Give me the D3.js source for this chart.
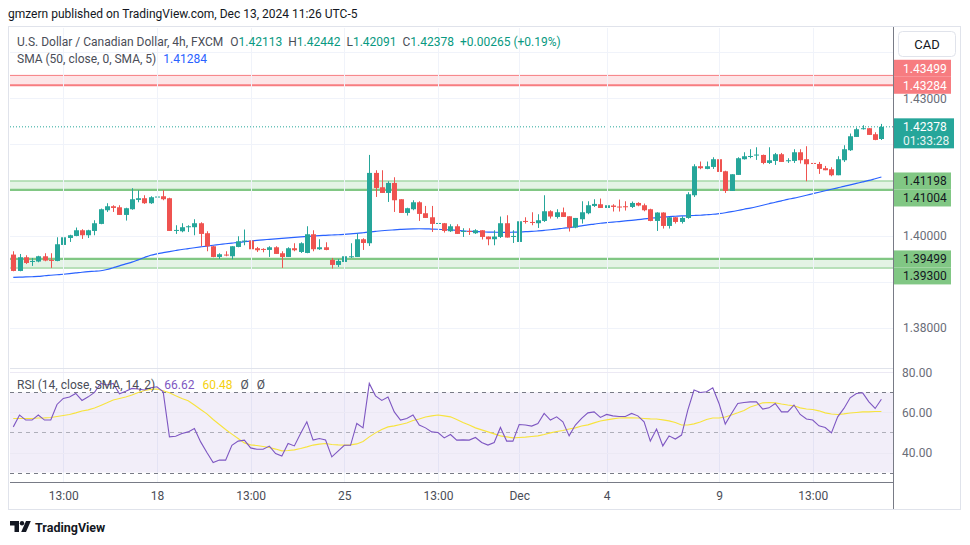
<!DOCTYPE html>
<html><head><meta charset="utf-8">
<script src="https://cdn.jsdelivr.net/npm/d3@7/dist/d3.min.js"></script>
<style>
html,body{margin:0;padding:0;background:#ffffff;}
svg{display:block;font-family:Roboto,"Noto Sans",sans-serif;}
</style>
</head><body>
<svg id="chart" width="970" height="545"></svg>
<script>
// ---------------- DATA ----------------
const open = [1.39594,1.39237,1.39535,1.39433,1.39442,1.39557,1.39477,1.39455,1.39804,1.39956,
1.40000,1.40124,1.40015,1.40109,1.40262,1.40560,1.40647,1.40625,1.40458,1.40582,
1.40785,1.40822,1.40713,1.40837,1.40865,1.40822,1.40109,1.40102,1.40190,1.40190,
1.40277,1.40059,1.39775,1.39542,1.39594,1.39557,1.39760,1.39878,1.39899,1.39732,
1.39717,1.39695,1.39753,1.39623,1.39542,1.39732,1.39651,1.39629,1.40037,1.39710,
1.39753,1.39477,1.39368,1.39433,1.39535,1.39542,1.39928,1.39841,1.41374,1.41061,
1.40937,1.41155,1.40800,1.40501,1.40582,1.40734,1.40495,1.40407,1.40270,1.40277,
1.40102,1.40211,1.40087,1.40109,1.40059,1.40124,1.39987,1.39928,1.39978,1.40277,
1.39978,1.39869,1.40327,1.40305,1.40277,1.40327,1.40538,1.40414,1.40516,1.40429,
1.40183,1.40364,1.40495,1.40654,1.40691,1.40610,1.40663,1.40641,1.40647,1.40632,
1.40719,1.40669,1.40582,1.40327,1.40510,1.40218,1.40407,1.40305,1.40392,1.40887,
1.41519,1.41461,1.41504,1.41672,1.41410,1.40981,1.41330,1.41672,1.41722,1.41752,
1.41765,1.41591,1.41635,1.41781,1.41628,1.41635,1.41824,1.41672,1.41591,1.41569,
1.41476,1.41454,1.41323,1.41650,1.41868,1.42158,1.42326,1.42348,1.42217,1.42113];

const high = [1.39666,1.39607,1.39579,1.39520,1.39568,1.39623,1.39623,1.39971,1.40000,1.40026,
1.40183,1.40146,1.40135,1.40342,1.40597,1.40713,1.40669,1.40669,1.40615,1.41040,
1.40996,1.40887,1.40865,1.41018,1.40996,1.40833,1.40233,1.40277,1.40233,1.40364,
1.40298,1.40102,1.39786,1.39623,1.39666,1.39775,1.39993,1.40140,1.39949,1.39760,
1.39732,1.39775,1.39775,1.39666,1.39753,1.39841,1.39862,1.40211,1.40124,1.39928,
1.39862,1.39520,1.39498,1.39753,1.39841,1.40052,1.39949,1.41766,1.41432,1.41432,
1.41192,1.41279,1.40800,1.40615,1.40778,1.40756,1.40654,1.40654,1.40342,1.40283,
1.40255,1.40255,1.40168,1.40168,1.40146,1.40124,1.39987,1.40124,1.40423,1.40451,
1.40124,1.40342,1.40407,1.40516,1.40473,1.40887,1.40560,1.40582,1.40619,1.40429,
1.40392,1.40756,1.40756,1.40800,1.40815,1.40800,1.40691,1.40793,1.40756,1.40750,
1.40734,1.40706,1.40593,1.40516,1.40516,1.40414,1.40414,1.40429,1.40953,1.41563,
1.41622,1.41622,1.41715,1.41737,1.41421,1.41345,1.41715,1.41824,1.41890,1.41933,
1.41774,1.41933,1.41809,1.41809,1.41694,1.41890,1.41890,1.41955,1.41672,1.41613,
1.41526,1.41497,1.41737,1.41977,1.42232,1.42363,1.42413,1.42348,1.42260,1.42442];

const low = [1.39230,1.39230,1.39389,1.39346,1.39426,1.39448,1.39302,1.39448,1.39786,1.39869,
1.39993,1.39935,1.39956,1.40015,1.40255,1.40523,1.40523,1.40458,1.40335,1.40571,
1.40734,1.40698,1.40698,1.40837,1.40778,1.40109,1.40044,1.40080,1.40087,1.40015,
1.39775,1.39666,1.39535,1.39498,1.39557,1.39492,1.39753,1.39797,1.39699,1.39651,
1.39644,1.39542,1.39608,1.39302,1.39542,1.39666,1.39629,1.39623,1.39666,1.39695,
1.39688,1.39289,1.39324,1.39389,1.39520,1.39542,1.39695,1.39782,1.40850,1.40937,
1.40741,1.40523,1.40501,1.40445,1.40560,1.40327,1.40392,1.40087,1.40227,1.40074,
1.40087,1.40044,1.39978,1.40022,1.40044,1.39922,1.39797,1.39797,1.39956,1.39965,
1.39847,1.39847,1.40270,1.40233,1.40174,1.40305,1.40379,1.40379,1.40414,1.40096,
1.40168,1.40270,1.40473,1.40632,1.40610,1.40538,1.40532,1.40532,1.40553,1.40610,
1.40647,1.40538,1.40320,1.40109,1.40161,1.40161,1.40270,1.40270,1.40375,1.40850,
1.41454,1.41454,1.41461,1.41345,1.40937,1.40981,1.41330,1.41665,1.41694,1.41657,
1.41563,1.41569,1.41548,1.41613,1.41591,1.41591,1.41578,1.41192,1.41504,1.41352,
1.41432,1.41301,1.41323,1.41613,1.41853,1.42158,1.42319,1.42202,1.42086,1.42091];

const close = [1.39237,1.39535,1.39411,1.39455,1.39557,1.39463,1.39463,1.39819,1.39971,1.40015,
1.40124,1.40015,1.40124,1.40277,1.40582,1.40647,1.40610,1.40458,1.40604,1.40800,
1.40822,1.40713,1.40844,1.40859,1.40800,1.40109,1.40131,1.40190,1.40211,1.40277,
1.40044,1.39775,1.39542,1.39601,1.39573,1.39775,1.39884,1.39899,1.39710,1.39688,
1.39699,1.39753,1.39608,1.39542,1.39732,1.39688,1.39841,1.40037,1.39710,1.39753,
1.39695,1.39368,1.39455,1.39557,1.39557,1.39928,1.39847,1.41374,1.41046,1.40937,
1.41155,1.40778,1.40501,1.40604,1.40734,1.40480,1.40392,1.40262,1.40283,1.40109,
1.40211,1.40044,1.40109,1.40087,1.40124,1.39978,1.39928,1.39987,1.40277,1.39965,
1.40000,1.40320,1.40305,1.40292,1.40342,1.40538,1.40423,1.40516,1.40414,1.40183,
1.40392,1.40516,1.40669,1.40698,1.40610,1.40669,1.40632,1.40625,1.40632,1.40719,
1.40663,1.40560,1.40327,1.40510,1.40218,1.40407,1.40305,1.40392,1.40909,1.41519,
1.41476,1.41519,1.41672,1.41395,1.40981,1.41345,1.41694,1.41737,1.41743,1.41774,
1.41591,1.41650,1.41781,1.41613,1.41650,1.41824,1.41650,1.41563,1.41569,1.41461,
1.41432,1.41323,1.41672,1.41890,1.42173,1.42326,1.42348,1.42202,1.42093,1.42378];

const sma50 = [1.39097,1.39102,1.39106,1.39111,1.39117,1.39132,1.39143,1.39154,1.39165,1.39178,
1.39193,1.39209,1.39222,1.39230,1.39241,1.39268,1.39307,1.39346,1.39392,1.39429,
1.39479,1.39531,1.39579,1.39610,1.39636,1.39660,1.39682,1.39704,1.39723,1.39743,
1.39762,1.39780,1.39797,1.39813,1.39830,1.39845,1.39858,1.39874,1.39889,1.39902,
1.39915,1.39926,1.39937,1.39948,1.39959,1.39969,1.39980,1.39989,1.39998,1.40007,
1.40013,1.40020,1.40026,1.40035,1.40046,1.40055,1.40070,1.40087,1.40100,1.40113,
1.40124,1.40133,1.40142,1.40150,1.40155,1.40157,1.40155,1.40150,1.40146,1.40140,
1.40131,1.40120,1.40111,1.40102,1.40096,1.40089,1.40085,1.40081,1.40078,1.40078,
1.40081,1.40085,1.40092,1.40098,1.40109,1.40122,1.40135,1.40150,1.40168,1.40183,
1.40201,1.40220,1.40242,1.40259,1.40277,1.40290,1.40303,1.40314,1.40327,1.40340,
1.40355,1.40371,1.40386,1.40401,1.40412,1.40423,1.40429,1.40436,1.40440,1.40445,
1.40451,1.40462,1.40473,1.40488,1.40506,1.40528,1.40554,1.40582,1.40608,1.40637,
1.40669,1.40702,1.40735,1.40765,1.40796,1.40824,1.40855,1.40887,1.40920,1.40953,
1.40985,1.41018,1.41049,1.41079,1.41112,1.41145,1.41177,1.41210,1.41247,1.41284];

const rsi = [52.8,58.7,56.2,56.2,58.7,56.2,56.2,64.0,67.0,67.7,
69.5,66.0,67.8,70.0,74.5,73.7,74.5,69.3,70.6,72.0,
71.7,71.2,72.3,72.8,70.3,47.8,48.1,49.5,50.3,52.0,
45.3,40.0,35.0,36.2,36.2,43.6,45.7,46.2,42.3,41.6,
41.6,43.2,39.5,38.2,44.5,43.3,49.5,55.3,46.2,47.0,
46.2,37.8,40.7,43.6,43.6,54.5,52.3,74.5,68.3,66.0,
67.7,60.3,56.2,57.0,58.7,53.7,52.3,50.3,50.0,47.3,
49.0,46.2,46.3,46.2,47.5,45.0,43.7,45.0,52.5,45.7,
45.7,54.0,53.7,53.2,54.5,59.5,56.2,57.8,55.3,48.3,
53.7,57.0,59.8,60.3,57.5,59.0,58.3,58.0,58.0,59.5,
58.3,55.3,45.7,51.7,43.3,48.3,46.7,48.7,61.2,71.2,
70.0,70.3,72.3,64.5,54.2,59.5,64.5,65.0,65.3,65.3,
61.7,62.3,64.5,60.3,60.3,63.7,59.0,56.7,56.2,53.3,
52.5,49.8,57.8,62.0,67.3,69.5,69.8,65.3,62.0,66.62];

const rsiMa = [57.0,57.0,57.0,57.0,57.2,57.3,57.5,58.0,58.5,59.0,
59.8,60.7,61.3,62.2,63.5,64.8,66.2,67.0,67.7,68.7,
70.0,71.0,71.5,71.7,70.8,69.8,68.3,67.0,65.8,63.7,
61.5,59.3,56.5,54.0,51.5,49.2,47.0,44.8,43.8,43.5,
43.0,42.5,41.7,40.8,41.0,41.3,42.0,42.8,43.7,44.2,
44.5,44.0,43.8,43.7,43.8,44.3,45.5,47.8,49.8,51.5,
52.8,53.3,54.0,54.7,56.0,56.7,57.7,58.3,58.7,58.3,
57.8,56.5,55.0,53.7,52.3,51.3,50.3,49.3,48.3,47.8,
47.3,47.5,47.7,48.0,48.3,49.0,49.8,50.5,51.0,51.7,
52.3,53.2,53.8,54.8,55.7,56.3,56.8,57.2,57.3,57.3,
57.2,57.0,56.8,56.7,56.3,55.8,55.0,53.7,53.7,54.3,
55.2,56.5,57.2,57.2,57.7,58.7,59.8,61.0,62.7,63.7,
64.8,65.0,64.8,64.2,63.7,63.3,62.3,61.7,61.5,60.8,
59.8,59.2,59.0,59.3,59.7,60.0,60.3,60.3,60.5,60.48];

const xTickIndex  = [8, 23, 38, 53, 68, 81, 95, 113, 128];
const xTickLabels = ["13:00","18","13:00","25","13:00","Dec","4","9","13:00"];
const priceTicks  = [1.38, 1.39, 1.40, 1.41, 1.42, 1.43, 1.44];
const rsiTicks    = [40, 60, 80];
const rsiLevels   = [70, 50, 30];
const redZone       = [1.43499, 1.43284];
const greenZoneHigh = [1.41198, 1.41004];
const greenZoneLow  = [1.39499, 1.39300];
const lastPrice = 1.42378;
const countdown = "01:33:28";
const ohlc = {o:"1.42113", h:"1.42442", l:"1.42091", c:"1.42378", chg:"+0.00265 (+0.19%)"};
const smaLast = "1.41284";
const rsiLastTxt = "66.62", rsiMaLastTxt = "60.48";

// ---------------- LAYOUT ----------------
const W = 970, H = 545;
const PL = 10, PR = 893, PT = 28, PB = 368, RT = 369, RB = 482, AB = 509, FR = 960;
const UP = "#26a69a", DOWN = "#ef5350";

const svg = d3.select("#chart");
svg.append("rect").attr("width", W).attr("height", H).attr("fill", "#fff");

const x = d3.scaleLinear().domain([0, 139]).range([13.3, 881.4]);
const y = d3.scaleLinear().domain([1.38, 1.43]).range([327.7, 98.3]);
const yr = d3.scaleLinear().domain([40, 80]).range([452.5, 372.4]);

const defs = svg.append("defs");
defs.append("clipPath").attr("id", "cp").append("rect").attr("x", PL).attr("y", PT).attr("width", PR - PL).attr("height", PB - PT);
defs.append("clipPath").attr("id", "cr").append("rect").attr("x", PL).attr("y", RT).attr("width", PR - PL).attr("height", RB - RT);

// header
svg.append("text").attr("x", 8).attr("y", 18).attr("font-size", 12).attr("fill", "#131722")
  .text("gmzern published on TradingView.com, Dec 13, 2024 11:26 UTC-5");

// frame
svg.append("rect").attr("x", 8.5).attr("y", 26.5).attr("width", FR - 8).attr("height", AB - 26)
  .attr("fill", "none").attr("stroke", "#e0e3eb");

// grid
const gp = svg.append("g").attr("clip-path", "url(#cp)");
gp.selectAll("line.h").data(priceTicks).join("line")
  .attr("x1", PL).attr("x2", PR).attr("y1", d => Math.round(y(d)) + 0.5).attr("y2", d => Math.round(y(d)) + 0.5)
  .attr("stroke", "#f0f3fa");
svg.selectAll("line.v").data(xTickIndex).join("line")
  .attr("x1", d => Math.round(x(d)) + 0.5).attr("x2", d => Math.round(x(d)) + 0.5)
  .attr("y1", PT).attr("y2", RB).attr("stroke", "#f0f3fa");

// zones
function zone(z, color, fill, thickIdx) {
  gp.append("rect").attr("x", PL).attr("width", PR - PL)
    .attr("y", y(z[0])).attr("height", y(z[1]) - y(z[0])).attr("fill", fill);
  z.forEach((v, i) => {
    gp.append("line").attr("x1", PL).attr("x2", PR).attr("y1", y(v)).attr("y2", y(v))
      .attr("stroke", color).attr("stroke-width", i === thickIdx ? 2.2 : 1);
  });
}
zone(redZone, "#f77c80", "rgba(242,54,69,0.13)", 1);
zone(greenZoneHigh, "#81c784", "rgba(76,175,80,0.15)", 1);
zone(greenZoneLow, "#81c784", "rgba(76,175,80,0.15)", 0);

// SMA line
gp.append("path").datum(sma50).attr("fill", "none").attr("stroke", "#2962ff").attr("stroke-width", 1.2)
  .attr("d", d3.line().x((d, i) => x(i)).y(d => y(d)).curve(d3.curveMonotoneX));

// candles
const idx = d3.range(open.length);
const cg = gp.append("g");
cg.selectAll("line.w").data(idx).join("line")
  .attr("x1", i => Math.round(x(i)) + 0.5).attr("x2", i => Math.round(x(i)) + 0.5)
  .attr("y1", i => y(high[i])).attr("y2", i => y(low[i]))
  .attr("stroke", i => close[i] >= open[i] ? UP : DOWN).attr("stroke-width", 1);
cg.selectAll("rect.b").data(idx).join("rect")
  .attr("x", i => Math.round(x(i)) - 2).attr("width", 5)
  .attr("y", i => Math.min(y(open[i]), y(close[i])))
  .attr("height", i => Math.max(1, Math.abs(y(open[i]) - y(close[i]))))
  .attr("fill", i => close[i] >= open[i] ? UP : DOWN);

// last price dotted line
gp.append("line").attr("x1", PL).attr("x2", PR).attr("y1", y(lastPrice)).attr("y2", y(lastPrice))
  .attr("stroke", UP).attr("stroke-dasharray", "1,2");

// legend (price pane)
const lg = svg.append("text").attr("x", 17).attr("y", 46).attr("font-size", 12);
lg.append("tspan").attr("fill", "#4a4d57").text("U.S. Dollar / Canadian Dollar, 4h, FXCM");
[["O", ohlc.o], ["H", ohlc.h], ["L", ohlc.l], ["C", ohlc.c]].forEach((p, k) => {
  lg.append("tspan").attr("fill", "#4a4d57").attr("dx", k === 0 ? 7 : 6).text(p[0]);
  lg.append("tspan").attr("fill", "#089981").text(p[1]);
});
lg.append("tspan").attr("fill", "#089981").attr("dx", 6).text(ohlc.chg);
const lg2 = svg.append("text").attr("x", 17).attr("y", 63).attr("font-size", 12);
lg2.append("tspan").attr("fill", "#4a4d57").text("SMA (50, close, 0, SMA, 5)");
lg2.append("tspan").attr("fill", "#2962ff").attr("dx", 7).text(smaLast);

// pane separator
svg.append("line").attr("x1", PL).attr("x2", PR).attr("y1", PB + 0.5).attr("y2", PB + 0.5).attr("stroke", "#e0e3eb");

// RSI pane
const gr = svg.append("g").attr("clip-path", "url(#cr)");
gr.append("rect").attr("x", PL).attr("width", PR - PL).attr("y", yr(70)).attr("height", yr(30) - yr(70))
  .attr("fill", "rgba(126,87,194,0.1)");
gr.selectAll("line.rg").data(rsiTicks).join("line")
  .attr("x1", PL).attr("x2", PR).attr("y1", d => Math.round(yr(d)) + 0.5).attr("y2", d => Math.round(yr(d)) + 0.5)
  .attr("stroke", "#ece9f4");
gr.selectAll("line.rl").data(rsiLevels).join("line")
  .attr("x1", PL).attr("x2", PR).attr("y1", d => Math.round(yr(d)) + 0.5).attr("y2", d => Math.round(yr(d)) + 0.5)
  .attr("stroke", d => d === 50 ? "rgba(120,123,134,0.55)" : "#787b86")
  .attr("stroke-dasharray", "4,4");
gr.append("path").datum(rsiMa).attr("fill", "none").attr("stroke", "#f7e33d").attr("stroke-width", 1.1)
  .attr("d", d3.line().x((d, i) => x(i)).y(d => yr(d)));
gr.append("path").datum(rsi).attr("fill", "none").attr("stroke", "#7e57c2").attr("stroke-width", 1.1)
  .attr("d", d3.line().x((d, i) => x(i)).y(d => yr(d)));

const rl = svg.append("text").attr("x", 17).attr("y", 389).attr("font-size", 12);
rl.append("tspan").attr("fill", "#4a4d57").text("RSI (14, close, SMA, 14, 2)");
rl.append("tspan").attr("fill", "#7e57c2").attr("dx", 9).text(rsiLastTxt);
rl.append("tspan").attr("fill", "#f5d10f").attr("dx", 8).text(rsiMaLastTxt);
rl.append("tspan").attr("fill", "#4a4d57").attr("dx", 8).text("Ø");
rl.append("tspan").attr("fill", "#4a4d57").attr("dx", 8).text("Ø");

// axes lines
svg.append("line").attr("x1", PR + 0.5).attr("x2", PR + 0.5).attr("y1", 27).attr("y2", AB).attr("stroke", "#787b86");
svg.append("line").attr("x1", PL).attr("x2", PR).attr("y1", RB + 0.5).attr("y2", RB + 0.5).attr("stroke", "#787b86");

// ---- price labels on axis: layout first (so tick labels they cover can be hidden) ----
const LH = 17;
const lastY = y(lastPrice);
const labels = [];
let lim = lastY - 8.5;
[...redZone].sort((a, b) => a - b).forEach(v => {
  const cy = Math.min(y(v), lim - LH / 2);
  labels.push({cy, v, bg: "#f77c80", fg: "#ffffff"});
  lim = cy - LH / 2;
});
let limB = lastY + 22;
[...greenZoneHigh, ...greenZoneLow].sort((a, b) => b - a).forEach(v => {
  const cy = Math.max(y(v), limB + LH / 2);
  labels.push({cy, v, bg: "#81c784", fg: "#131722"});
  limB = cy + LH / 2;
});
const boxes = labels.map(l => [l.cy - LH / 2, l.cy + LH / 2]);
boxes.push([lastY - 8.5, lastY + 21.5]);   // last price box
boxes.push([31, 57]);                        // CAD button
const visibleTicks = priceTicks.filter(t => {
  const ty = y(t);
  return ty > PT + 4 && ty < PB - 4 && !boxes.some(b => ty + 3.5 > b[0] && ty - 3.5 < b[1]);
});

// price axis
const pa = svg.append("g").attr("transform", `translate(${PR},0)`)
  .call(d3.axisRight(y).tickValues(visibleTicks).tickFormat(d3.format(".5f")).tickSize(0).tickPadding(10));
pa.select(".domain").remove();
pa.selectAll("text").attr("font-size", 12).attr("fill", "#6a6d78").attr("font-family", "Roboto, sans-serif");

// rsi axis
const ra = svg.append("g").attr("transform", `translate(${PR},0)`)
  .call(d3.axisRight(yr).tickValues(rsiTicks).tickFormat(d3.format(".2f")).tickSize(0).tickPadding(9));
ra.select(".domain").remove();
ra.selectAll("text").attr("font-size", 12).attr("fill", "#6a6d78").attr("font-family", "Roboto, sans-serif");

// time axis
const ta = svg.append("g").attr("transform", `translate(0,${RB})`)
  .call(d3.axisBottom(x).tickValues(xTickIndex).tickFormat((d, i) => xTickLabels[i]).tickSize(0).tickPadding(9));
ta.select(".domain").remove();
ta.selectAll("text").attr("font-size", 12).attr("fill", "#4a4d57").attr("font-family", "Roboto, sans-serif");

// draw price labels
labels.forEach(l => {
  svg.append("rect").attr("x", PR + 1).attr("y", l.cy - LH / 2).attr("width", 57).attr("height", LH).attr("fill", l.bg);
  svg.append("text").attr("x", PR + 10).attr("y", l.cy + 4.3).attr("font-size", 12).attr("fill", l.fg)
    .attr("font-family", "Roboto, sans-serif").text(d3.format(".5f")(l.v));
});
// last price label
svg.append("rect").attr("x", PR + 1).attr("y", lastY - 8.5).attr("width", 60).attr("height", 30).attr("fill", UP);
svg.append("text").attr("x", PR + 10).attr("y", lastY + 4.3).attr("font-size", 12).attr("fill", "#fff")
  .attr("font-family", "Roboto, sans-serif").text(d3.format(".5f")(lastPrice));
svg.append("text").attr("x", PR + 10).attr("y", lastY + 18).attr("font-size", 12).attr("fill", "#e6f4f2")
  .attr("font-family", "Roboto, sans-serif").text(countdown);

// CAD box
svg.append("rect").attr("x", 898.5).attr("y", 31.5).attr("width", 57).attr("height", 25).attr("rx", 4)
  .attr("fill", "#fff").attr("stroke", "#e0e3eb");
svg.append("text").attr("x", 927).attr("y", 48.5).attr("text-anchor", "middle").attr("font-size", 13)
  .attr("fill", "#131722").text("CAD");

// bottom logo
const logo = svg.append("g").attr("fill", "#131722");
logo.append("path").attr("d", "M10,521 h9 v11 h-4.5 v-6.5 h-4.5 z");
logo.append("circle").attr("cx", 22).attr("cy", 523.2).attr("r", 2.2);
logo.append("path").attr("d", "M26,521 h4.8 l-4.8,11 h-4.8 z");
svg.append("text").attr("x", 35).attr("y", 531.5).attr("font-size", 12.5).attr("font-weight", "bold")
  .attr("fill", "#131722").text("TradingView");
</script>
</body></html>
